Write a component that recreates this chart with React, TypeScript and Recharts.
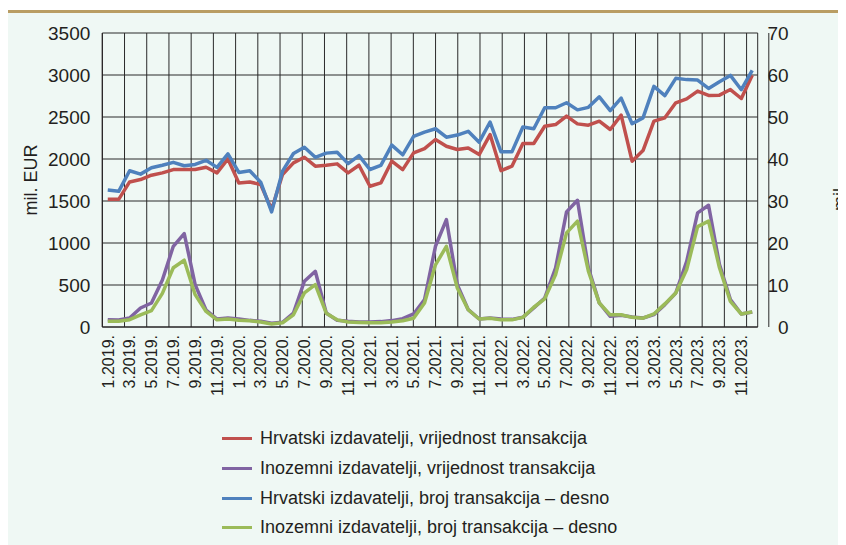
import React from 'react';
import { LineChart, Line, XAxis, YAxis, CartesianGrid, Legend, Label } from 'recharts';

const months = [
  '1.2019.', '2.2019.', '3.2019.', '4.2019.', '5.2019.', '6.2019.', '7.2019.', '8.2019.', '9.2019.', '10.2019.', '11.2019.', '12.2019.',
  '1.2020.', '2.2020.', '3.2020.', '4.2020.', '5.2020.', '6.2020.', '7.2020.', '8.2020.', '9.2020.', '10.2020.', '11.2020.', '12.2020.',
  '1.2021.', '2.2021.', '3.2021.', '4.2021.', '5.2021.', '6.2021.', '7.2021.', '8.2021.', '9.2021.', '10.2021.', '11.2021.', '12.2021.',
  '1.2022.', '2.2022.', '3.2022.', '4.2022.', '5.2022.', '6.2022.', '7.2022.', '8.2022.', '9.2022.', '10.2022.', '11.2022.', '12.2022.',
  '1.2023.', '2.2023.', '3.2023.', '4.2023.', '5.2023.', '6.2023.', '7.2023.', '8.2023.', '9.2023.', '10.2023.', '11.2023.', '12.2023.',
];

// Hrvatski izdavatelji, vrijednost transakcija (mil. EUR, left)
const hrvVrijednost = [
  1520, 1520, 1727, 1755, 1807, 1835, 1874, 1874, 1874, 1902, 1835, 2001,
  1715, 1727, 1696, 1400, 1815, 1954, 2021, 1914, 1926, 1942, 1835, 1926,
  1676, 1715, 1974, 1874, 2073, 2124, 2232, 2152, 2113, 2132, 2053, 2291,
  1862, 1914, 2184, 2184, 2390, 2410, 2510, 2418, 2402, 2450, 2351, 2522,
  1974, 2101, 2450, 2490, 2669, 2716, 2808, 2756, 2760, 2827, 2720, 2998,
];

// Inozemni izdavatelji, vrijednost transakcija (mil. EUR, left)
const inoVrijednost = [
  87, 84, 107, 226, 286, 560, 961, 1112, 504, 200, 95, 107,
  95, 79, 68, 44, 56, 167, 544, 663, 167, 79, 68, 60,
  60, 64, 76, 99, 155, 326, 961, 1279, 504, 206, 95, 107,
  95, 91, 115, 226, 345, 703, 1370, 1509, 703, 286, 127, 139,
  119, 107, 147, 266, 405, 782, 1358, 1449, 743, 326, 155, 179,
];

// Hrvatski izdavatelji, broj transakcija (right)
const hrvBroj = [
  32.6, 32.3, 37.2, 36.4, 37.9, 38.5, 39.2, 38.4, 38.7, 39.7, 38.0, 41.2,
  36.8, 37.2, 34.5, 27.4, 37.1, 41.3, 42.8, 40.4, 41.4, 41.6, 38.9, 40.8,
  37.5, 38.5, 43.3, 41.0, 45.4, 46.4, 47.2, 45.2, 45.7, 46.6, 44.0, 48.8,
  41.7, 41.7, 47.6, 47.2, 52.2, 52.2, 53.4, 51.7, 52.3, 54.8, 51.5, 54.5,
  48.4, 49.8, 57.3, 55.1, 59.2, 58.9, 58.8, 56.8, 58.4, 59.9, 56.5, 61.1,
];

// Inozemni izdavatelji, broj transakcija (right)
const inoBroj = [
  1.35, 1.35, 1.75, 2.9, 3.9, 8.0, 14.1, 15.9, 7.7, 3.7, 1.7, 1.9,
  1.6, 1.5, 1.2, 0.7, 1.0, 2.9, 8.1, 10.1, 3.3, 1.7, 1.2, 1.1,
  1.0, 1.0, 1.2, 1.5, 2.1, 5.7, 14.8, 19.2, 9.3, 4.1, 1.9, 2.1,
  1.7, 1.7, 2.3, 4.7, 6.7, 12.5, 22.4, 25.2, 13.3, 5.7, 2.9, 2.9,
  2.3, 2.1, 3.1, 5.5, 8.1, 13.7, 23.9, 25.2, 14.1, 6.1, 3.1, 3.6,
];

const leftTicks = [0, 500, 1000, 1500, 2000, 2500, 3000, 3500];
const rightTicks = [0, 10, 20, 30, 40, 50, 60, 70];
const gridTicks = [0, 2, 4, 6, 8, 10, 12, 14, 16, 18, 20, 22, 24, 26, 28, 30, 32, 34, 36, 38, 40, 42, 44, 46, 48, 50, 52, 54, 56, 58, 60];

const seriesNames = [
  'Hrvatski izdavatelji, vrijednost transakcija',
  'Inozemni izdavatelji, vrijednost transakcija',
  'Hrvatski izdavatelji, broj transakcija – desno',
  'Inozemni izdavatelji, broj transakcija – desno',
];

const data = months.map((m, i) => ({
  x: i + 0.5,
  month: m,
  hv: hrvVrijednost[i],
  iv: inoVrijednost[i],
  hb: hrvBroj[i],
  ib: inoBroj[i],
}));

const labelTicks = months.map((_, i) => i + 0.5).filter((_, i) => i % 2 === 0);

const FONT = '"Liberation Sans", Arial, Helvetica, sans-serif';
const TEXT = '#231f20';

const XTick = (props: any) => {
  const { x, y, payload } = props;
  const label = months[Math.floor(payload.value)];
  return (
    <text
      x={x}
      y={y}
      transform={`rotate(-90, ${x}, ${y})`}
      textAnchor="end"
      dy="0.36em"
      fontSize={16}
      fontFamily={FONT}
      fill={TEXT}
    >
      {label}
    </text>
  );
};

const RightTick = (props: any) => {
  const { x, y, payload } = props;
  return (
    <text x={x + 23} y={y} dy="0.35em" textAnchor="end" fontSize={19} fontFamily={FONT} fill={TEXT}>
      {payload.value}
    </text>
  );
};

const LegendContent = (props: any) => {
  const payload = [...(props.payload || [])].sort(
    (a: any, b: any) => seriesNames.indexOf(a.value) - seriesNames.indexOf(b.value)
  );
  return (
    <div style={{ height: 120, fontFamily: FONT, fontSize: 18, color: TEXT }}>
      {payload.map((p: any) => (
        <div key={p.value} style={{ height: 29.7, display: 'flex', alignItems: 'center', whiteSpace: 'nowrap' }}>
          <span style={{ display: 'inline-block', width: 30, height: 3, background: p.color, marginRight: 8 }} />
          <span>{p.value}</span>
        </div>
      ))}
    </div>
  );
};

export default function App() {
  return (
    <div style={{ position: 'relative', width: 838, height: 537, background: '#eff8f4', fontFamily: FONT }}>
      <div style={{ position: 'absolute', left: 0, top: 0, width: 838, height: 2, background: '#ffffff' }} />
      <div style={{ position: 'absolute', left: 0, top: 2, width: 838, height: 2.5, background: '#b99d63' }} />
      <LineChart
        width={838}
        height={537}
        data={data}
        margin={{ top: 25, left: 34.3, right: 38.3, bottom: 3 }}
        style={{ position: 'absolute', left: 0, top: 0 }}
      >
        <XAxis
          xAxisId="g"
          type="number"
          domain={[0, 60]}
          ticks={gridTicks}
          hide
          allowDataOverflow
        />
        <CartesianGrid xAxisId="g" yAxisId="left" stroke="#2a2a2a" strokeWidth={1} fill="none" />
        <XAxis
          type="number"
          dataKey="x"
          domain={[0, 60]}
          ticks={labelTicks}
          interval={0}
          height={95}
          tickLine={false}
          axisLine={{ stroke: TEXT, strokeWidth: 1 }}
          tick={<XTick />}
        />
        <YAxis
          yAxisId="left"
          domain={[0, 3500]}
          ticks={leftTicks}
          interval={0}
          width={60}
          tickLine={false}
          tickMargin={6}
          axisLine={{ stroke: TEXT, strokeWidth: 1 }}
          tick={{ fontSize: 19, fill: TEXT, fontFamily: FONT }}
        >
          <Label
            content={(p: any) => {
              const vb = p.viewBox || { x: 34.3, y: 25, width: 60, height: 294 };
              const cx = vb.x - 5;
              const cy = vb.y + vb.height / 2;
              return (
                <text
                  x={cx}
                  y={cy}
                  transform={`rotate(-90, ${cx}, ${cy})`}
                  textAnchor="middle"
                  fontSize={18}
                  fontFamily={FONT}
                  fill={TEXT}
                >
                  mil. EUR
                </text>
              );
            }}
          />
        </YAxis>
        <YAxis
          yAxisId="right"
          orientation="right"
          domain={[0, 70]}
          ticks={rightTicks}
          interval={0}
          width={50}
          tickLine={false}
          axisLine={false}
          tick={<RightTick />}
        >
          <Label
            content={(p: any) => {
              const vb = p.viewBox || { x: 749.7, y: 25, width: 50, height: 294 };
              const cx = vb.x + 88;
              const cy = vb.y + vb.height / 2 + 31;
              return (
                <text
                  x={cx}
                  y={cy}
                  transform={`rotate(-90, ${cx}, ${cy})`}
                  textAnchor="start"
                  fontSize={18}
                  fontFamily={FONT}
                  fill={TEXT}
                >
                  mil.
                </text>
              );
            }}
          />
        </YAxis>
        <Legend
          verticalAlign="bottom"
          align="left"
          layout="horizontal"
          content={<LegendContent />}
          wrapperStyle={{ left: 214, top: 416, width: 500, height: 120 }}
        />
        <Line yAxisId="left" dataKey="hv" name={seriesNames[0]} stroke="#c0504d" strokeWidth={3.5} dot={false} isAnimationActive={false} strokeLinejoin="round" />
        <Line yAxisId="left" dataKey="iv" name={seriesNames[1]} stroke="#8064a2" strokeWidth={3.5} dot={false} isAnimationActive={false} strokeLinejoin="round" />
        <Line yAxisId="right" dataKey="hb" name={seriesNames[2]} stroke="#4f81bd" strokeWidth={3.5} dot={false} isAnimationActive={false} strokeLinejoin="round" />
        <Line yAxisId="right" dataKey="ib" name={seriesNames[3]} stroke="#9bbb59" strokeWidth={3.5} dot={false} isAnimationActive={false} strokeLinejoin="round" />
      </LineChart>
    </div>
  );
}
